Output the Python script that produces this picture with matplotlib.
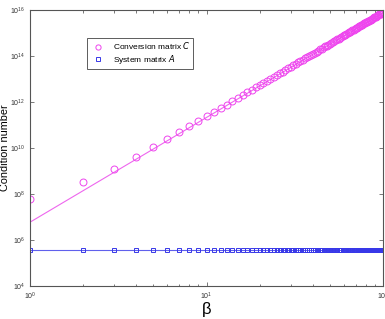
import numpy as np
import matplotlib
matplotlib.use('Agg')
import matplotlib.pyplot as plt
from matplotlib.ticker import LogLocator, NullFormatter, NullLocator

# beta = 1..100
beta = np.arange(1, 101)

# log10 of cond(C)
logC = [7.78, 8.52, 9.09, 9.60, 10.03, 10.38, 10.69, 10.94, 11.17, 11.38,
        11.56, 11.73, 11.89, 12.03, 12.17, 12.30, 12.42, 12.53, 12.64, 12.74,
        12.83, 12.92, 13.01, 13.09, 13.17, 13.25, 13.32, 13.39, 13.46, 13.53,
        13.60, 13.66, 13.72, 13.78, 13.84, 13.89, 13.95, 14.00, 14.05, 14.10,
        14.14, 14.19, 14.23, 14.28, 14.32, 14.37, 14.41, 14.45, 14.49, 14.53,
        14.57, 14.61, 14.65, 14.68, 14.72, 14.75, 14.79, 14.82, 14.86, 14.89,
        14.92, 14.96, 14.99, 15.02, 15.05, 15.08, 15.11, 15.14, 15.17, 15.20,
        15.22, 15.25, 15.28, 15.31, 15.33, 15.36, 15.38, 15.41, 15.43, 15.46,
        15.48, 15.51, 15.53, 15.56, 15.58, 15.60, 15.62, 15.65, 15.67, 15.69,
        15.71, 15.74, 15.76, 15.78, 15.80, 15.82, 15.84, 15.86, 15.88, 15.90]
cond_C = 10.0 ** np.array(logC)

# cond(A) is flat
cond_A = [3.7e5] * 100

# fitted trend lines drawn through the markers
C_fit_coef, C_fit_exp = 6.0e6, 4.55
A_fit_level = 3.7e5

pink = '#ee44ee'
pink_line = '#ee66ee'
blue = '#3838e8'

plt.rcParams['font.family'] = ['Liberation Sans', 'DejaVu Sans']

fig = plt.figure(figsize=(3.85, 3.19), dpi=100)
ax = fig.add_axes([0.078, 0.103, 0.917, 0.866])

ax.plot(beta, C_fit_coef * beta.astype(float) ** C_fit_exp, '-', color=pink_line, lw=0.8)
ax.plot(beta, np.full(beta.shape, A_fit_level), '-', color=blue, lw=0.8, alpha=0.8)
ax.plot(beta, cond_C, 'o', mfc='none', mec=pink, ms=5, mew=0.7,
        label='Conversion matrix $C$')
ax.plot(beta, cond_A, 's', mfc='none', mec=blue, ms=3.5, mew=0.7,
        label='System matrix $A$')

ax.set_xscale('log')
ax.set_yscale('log')
ax.set_xlim(1, 100)
ax.set_ylim(1e4, 1e16)
ax.set_yticks([1e4, 1e6, 1e8, 1e10, 1e12, 1e14, 1e16])
ax.yaxis.set_minor_locator(NullLocator())
ax.xaxis.set_minor_locator(LogLocator(base=10, subs=np.arange(2, 10)))
ax.xaxis.set_minor_formatter(NullFormatter())

ax.tick_params(which='both', direction='in', top=True, right=True,
               labelsize=5, colors='#444444', labelcolor='#333333')
ax.tick_params(which='major', length=3, width=0.5)
ax.tick_params(which='minor', length=1.8, width=0.5)
for s in ax.spines.values():
    s.set_color('#555555')
    s.set_linewidth(0.8)

ax.set_xlabel('β', fontsize=12, labelpad=0)
ax.set_ylabel('Condition number', fontsize=7.8)
ax.yaxis.set_label_coords(-0.056, 0.5)

leg = ax.legend(loc='upper left', bbox_to_anchor=(0.16, 0.90), fontsize=6,
                frameon=True, fancybox=False, borderpad=0.35, handlelength=2.0,
                handletextpad=0.8, labelspacing=0.2, borderaxespad=0,
                markerscale=0.75)
leg.get_frame().set_edgecolor('#333333')
leg.get_frame().set_linewidth(0.7)

fig.savefig('out.png', dpi=100)
